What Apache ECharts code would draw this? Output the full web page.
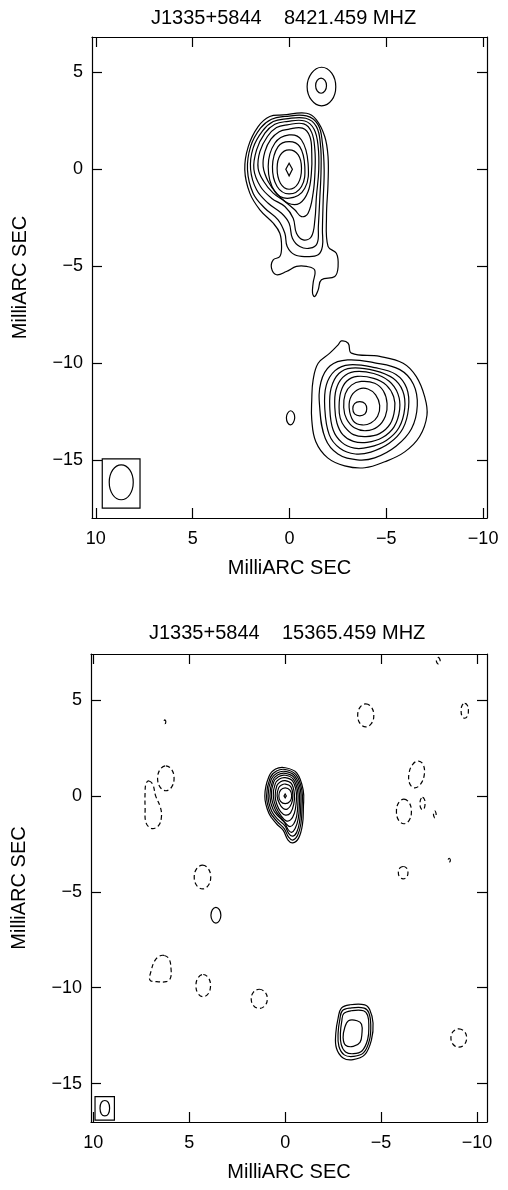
<!DOCTYPE html>
<html>
<head>
<meta charset="utf-8">
<script src="https://cdn.jsdelivr.net/npm/echarts@6/dist/echarts.min.js"></script>
<style>
  html, body { margin: 0; padding: 0; background: #fff; }
  #chart { width: 508px; height: 1190px; }
</style>
</head>
<body>
<div id="chart"></div>
<script>
// tick values (milliarcsec)
const xTicks = [10, 5, 0, -5, -10];
const yTicks = [5, 0, -5, -10, -15];

// ---- 8421 MHz map: contour polygons in (RA offset, Dec offset) mas ----
const topCoreRings = [
  [[0.33,2.78],[-0.88,2.87],[-1.39,2.53],[-1.82,1.67],[-1.99,0.64],[-1.99,-0.74],[-1.91,-2.46],[-1.99,-4.0],[-2.42,-4.35],[-2.51,-5.03],[-2.34,-5.55],[-1.65,-5.72],[-1.48,-6.24],[-1.3,-6.58],[-1.19,-6.41],[-1.22,-5.89],[-1.3,-5.21],[-0.88,-5.03],[-0.36,-5.03],[0.16,-5.29],[0.67,-5.46],[0.93,-5.12],[0.84,-4.69],[0.5,-4.52],[0.41,-4.0],[0.5,-3.32],[0.84,-2.8],[1.53,-2.11],[2.05,-1.25],[2.31,-0.05],[2.13,1.15],[1.62,2.18],[1.02,2.7]],
  [[0.24,2.70],[-0.88,2.73],[-1.48,2.27],[-1.70,1.32],[-1.79,-0.05],[-1.74,-1.60],[-1.70,-3.14],[-1.70,-4.0],[-1.48,-4.43],[-0.88,-4.52],[-0.27,-4.43],[0.12,-4.0],[0.24,-3.32],[0.59,-2.63],[1.27,-2.03],[1.88,-1.25],[2.17,-0.05],[2.01,1.15],[1.50,2.10],[0.93,2.56]],
  [[0.19,2.58],[-0.84,2.61],[-1.39,2.18],[-1.60,1.24],[-1.63,-0.05],[-1.56,-1.60],[-1.49,-2.97],[-1.43,-3.83],[-1.05,-4.09],[-0.53,-4.0],[-0.15,-3.57],[0.02,-2.80],[0.41,-2.29],[1.10,-1.77],[1.70,-1.08],[2.01,-0.02],[1.88,1.07],[1.39,1.96],[0.84,2.44]],
  [[0.16,2.44],[-0.79,2.47],[-1.27,2.04],[-1.48,1.15],[-1.51,-0.05],[-1.39,-1.43],[-1.31,-2.63],[-1.13,-3.49],[-0.71,-3.66],[-0.36,-3.32],[-0.19,-2.54],[0.24,-1.94],[0.93,-1.51],[1.50,-0.91],[1.84,-0.02],[1.70,0.98],[1.27,1.84],[0.76,2.30]],
  [[0.12,2.27],[-0.74,2.32],[-1.15,1.87],[-1.31,0.98],[-1.32,-0.05],[-1.22,-1.25],[-0.96,-2.29],[-0.62,-2.46],[-0.27,-2.11],[0.24,-1.68],[0.84,-1.25],[1.33,-0.65],[1.62,0.03],[1.53,0.89],[1.14,1.67],[0.67,2.13]],
  [[0.07,2.04],[-0.67,2.10],[-1.05,1.67],[-1.15,0.81],[-1.13,-0.22],[-0.96,-1.17],[-0.53,-1.77],[0.07,-1.77],[0.67,-1.25],[1.10,-0.65],[1.36,0.12],[1.27,0.89],[0.96,1.53],[0.53,1.92]],
  [[0.02,1.75],[-0.62,1.49],[-0.96,0.29],[-0.79,-1.0],[0.0,-1.51],[0.76,-1.17],[1.10,0.12],[0.76,1.32]],
  [[0.02,1.41],[-0.53,1.15],[-0.79,0.12],[-0.62,-0.91],[0.02,-1.29],[0.64,-0.91],[0.88,0.12],[0.59,1.15]],
  [[0.02,0.98],[-0.45,0.72],[-0.62,0.03],[-0.45,-0.74],[0.02,-1.05],[0.47,-0.74],[0.64,0.03],[0.47,0.72]]
];
const topCorePeak = [[0.02,0.29],[-0.15,-0.02],[0.02,-0.36],[0.19,-0.02]];
const topNorthRings = [
  [[-1.66,5.24],[-2.18,4.94],[-2.39,4.24],[-2.18,3.54],[-1.66,3.25],[-1.14,3.54],[-0.91,4.24],[-1.14,4.94]],
  [[-1.63,4.68],[-1.83,4.56],[-1.91,4.29],[-1.83,4.02],[-1.63,3.90],[-1.43,4.02],[-1.35,4.29],[-1.43,4.56]]
];
const topSouthRings = [
  [[-1.22,-10.88],[-1.48,-10.02],[-2.08,-9.5],[-2.51,-9.07],[-2.68,-8.87],[-3.03,-8.99],[-3.2,-9.5],[-4.66,-9.67],[-5.87,-10.02],[-6.55,-10.71],[-6.98,-11.74],[-7.1,-12.7],[-6.72,-13.8],[-5.95,-14.59],[-4.92,-15.1],[-3.89,-15.41],[-2.85,-15.31],[-1.97,-14.9],[-1.36,-14.07],[-1.15,-12.94],[-1.15,-11.9]],
  [[-1.56,-12.3],[-1.62,-11.0],[-2.1,-10.15],[-3.0,-9.85],[-4.4,-10.0],[-5.7,-10.35],[-6.4,-11.1],[-6.6,-12.2],[-6.3,-13.4],[-5.5,-14.3],[-4.4,-14.9],[-3.5,-15.0],[-2.5,-14.7],[-1.85,-13.9]],
  [[-1.82,-12.3],[-1.9,-11.15],[-2.35,-10.4],[-3.1,-10.1],[-4.4,-10.25],[-5.5,-10.6],[-6.05,-11.3],[-6.15,-12.3],[-5.85,-13.4],[-5.15,-14.15],[-4.2,-14.6],[-3.4,-14.7],[-2.6,-14.4],[-2.05,-13.7]],
  [[-2.08,-12.3],[-2.15,-11.3],[-2.55,-10.55],[-3.2,-10.27],[-4.4,-10.4],[-5.35,-10.8],[-5.85,-11.45],[-5.95,-12.35],[-5.65,-13.35],[-5.0,-14.0],[-4.1,-14.35],[-3.35,-14.4],[-2.7,-14.1],[-2.25,-13.45]],
  [[-2.34,-12.3],[-2.4,-11.4],[-2.75,-10.75],[-3.35,-10.45],[-4.35,-10.55],[-5.15,-10.95],[-5.6,-11.6],[-5.69,-12.4],[-5.4,-13.3],[-4.8,-13.85],[-4.0,-14.1],[-3.3,-14.05],[-2.75,-13.7],[-2.45,-13.1]],
  [[-2.56,-12.3],[-2.65,-11.5],[-2.95,-10.95],[-3.5,-10.7],[-4.35,-10.8],[-5.0,-11.15],[-5.38,-11.75],[-5.43,-12.4],[-5.2,-13.15],[-4.65,-13.65],[-3.95,-13.8],[-3.3,-13.7],[-2.85,-13.3],[-2.62,-12.85]],
  [[-2.8,-12.3],[-2.88,-11.6],[-3.2,-11.15],[-3.7,-10.96],[-4.4,-11.05],[-4.85,-11.45],[-5.04,-12.1],[-4.95,-12.75],[-4.55,-13.3],[-3.95,-13.5],[-3.35,-13.35],[-2.95,-12.9]],
  [[-3.08,-12.3],[-3.2,-11.7],[-3.6,-11.35],[-4.05,-11.35],[-4.45,-11.65],[-4.66,-12.2],[-4.55,-12.75],[-4.2,-13.1],[-3.75,-13.2],[-3.3,-13.0]],
  [[-3.63,-12.0],[-3.9,-12.1],[-3.99,-12.37],[-3.9,-12.63],[-3.63,-12.73],[-3.36,-12.63],[-3.27,-12.37],[-3.36,-12.1]]
];
const topSpot = [[-0.06,-12.47],[-0.22,-12.6],[-0.27,-12.83],[-0.2,-13.08],[-0.06,-13.2],[0.1,-13.08],[0.16,-12.83],[0.1,-12.6]];
const topBeam = [[8.69,-15.26],[8.25,-15.52],[8.07,-16.16],[8.25,-16.8],[8.69,-17.06],[9.13,-16.8],[9.31,-16.16],[9.13,-15.52]];
const topBeamBox = [[9.67,-14.95],[7.72,-14.95],[7.72,-17.49],[9.67,-17.49]];

// ---- 15365 MHz map ----
const botCoreRings = [
  [[0.0,1.47],[-0.6,1.2],[-0.94,0.3],[-0.95,-0.6],[-0.9,-1.5],[-0.7,-2.2],[-0.4,-2.45],[-0.15,-2.3],[0.1,-1.8],[0.45,-1.45],[0.85,-0.9],[1.06,0.0],[0.85,1.0],[0.5,1.4]],
  [[0.0,1.38],[-0.55,1.12],[-0.87,0.3],[-0.88,-0.6],[-0.82,-1.45],[-0.65,-2.05],[-0.4,-2.3],[-0.18,-2.15],[0.05,-1.7],[0.4,-1.35],[0.78,-0.85],[0.97,0.0],[0.78,0.95],[0.45,1.3]],
  [[0.0,1.28],[-0.5,1.05],[-0.8,0.3],[-0.81,-0.55],[-0.75,-1.35],[-0.6,-1.9],[-0.38,-2.1],[-0.18,-1.95],[0.02,-1.55],[0.35,-1.25],[0.7,-0.8],[0.89,0.0],[0.72,0.88],[0.42,1.2]],
  [[0.0,1.18],[-0.46,0.97],[-0.72,0.3],[-0.74,-0.5],[-0.68,-1.2],[-0.52,-1.7],[-0.33,-1.9],[-0.15,-1.75],[0.02,-1.4],[0.3,-1.12],[0.62,-0.72],[0.8,0.0],[0.65,0.8],[0.38,1.1]],
  [[0.0,1.08],[-0.42,0.88],[-0.65,0.25],[-0.66,-0.45],[-0.6,-1.05],[-0.45,-1.45],[-0.25,-1.6],[-0.05,-1.45],[0.2,-1.15],[0.5,-0.75],[0.72,0.0],[0.6,0.72],[0.35,1.0]],
  [[0.0,0.95],[-0.38,0.78],[-0.58,0.2],[-0.57,-0.4],[-0.48,-0.9],[-0.28,-1.25],[-0.05,-1.3],[0.22,-1.02],[0.48,-0.58],[0.62,0.0],[0.52,0.63],[0.3,0.88]],
  [[0.0,0.8],[-0.32,0.65],[-0.48,0.12],[-0.45,-0.42],[-0.28,-0.88],[-0.02,-1.0],[0.24,-0.82],[0.43,-0.45],[0.52,0.0],[0.43,0.54],[0.24,0.74]],
  [[0.0,0.62],[-0.28,0.5],[-0.4,0.05],[-0.33,-0.4],[-0.12,-0.68],[0.1,-0.66],[0.3,-0.4],[0.42,0.0],[0.34,0.42],[0.18,0.57]],
  [[0.0,0.42],[-0.25,0.3],[-0.34,0.0],[-0.25,-0.28],[0.0,-0.4],[0.24,-0.28],[0.33,0.0],[0.24,0.3]]
];
const botCorePeak = [[0.0,0.1],[-0.06,0.0],[0.0,-0.1],[0.06,0.0]];
const botSouthRings = [
  [[-2.93,-11.06],[-3.37,-10.89],[-4.15,-10.89],[-4.41,-11.15],[-4.58,-11.84],[-4.50,-12.71],[-4.15,-13.49],[-3.54,-13.75],[-3.02,-13.66],[-2.67,-13.14],[-2.64,-12.36],[-2.76,-11.58]],
  [[-2.98,-11.2],[-3.4,-11.06],[-4.12,-11.06],[-4.36,-11.3],[-4.46,-11.9],[-4.4,-12.7],[-4.08,-13.4],[-3.55,-13.58],[-3.08,-13.5],[-2.8,-13.05],[-2.76,-12.36],[-2.85,-11.65]],
  [[-3.05,-11.35],[-3.45,-11.2],[-4.08,-11.2],[-4.3,-11.45],[-4.36,-12.0],[-4.3,-12.7],[-4.0,-13.3],[-3.55,-13.44],[-3.15,-13.35],[-2.92,-12.95],[-2.88,-12.36],[-2.95,-11.75]],
  [[-3.3,-11.72],[-3.75,-11.72],[-3.98,-11.9],[-4.0,-12.4],[-3.9,-12.85],[-3.55,-13.06],[-3.15,-13.0],[-3.02,-12.6],[-3.1,-12.1]]
];
const botSolidSpot = [[3.61,-5.81],[3.43,-5.93],[3.35,-6.22],[3.43,-6.51],[3.61,-6.63],[3.79,-6.51],[3.87,-6.22],[3.79,-5.93]];
const botNegative = [
  [[6.27,3.97],[6.22,3.87],[6.27,3.77],[6.32,3.87]],
  [[6.22,1.57],[5.92,1.38],[5.79,0.92],[5.92,0.46],[6.22,0.27],[6.52,0.46],[6.65,0.92],[6.52,1.38]],
  [[7.1,0.78],[6.9,0.6],[6.75,0.0],[6.5,-0.6],[6.45,-1.1],[6.6,-1.55],[6.95,-1.7],[7.25,-1.4],[7.3,-0.6],[7.3,0.2],[7.25,0.65]],
  [[4.31,-3.61],[4.01,-3.79],[3.88,-4.23],[4.01,-4.67],[4.31,-4.85],[4.61,-4.67],[4.74,-4.23],[4.61,-3.79]],
  [[6.30,-8.32],[6.05,-8.5],[5.95,-9.0],[5.98,-9.5],[6.2,-9.68],[6.7,-9.68],[7.05,-9.6],[6.98,-9.1],[6.8,-8.6],[6.55,-8.35]],
  [[4.27,-9.31],[4.0,-9.48],[3.89,-9.89],[4.0,-10.3],[4.27,-10.47],[4.54,-10.3],[4.65,-9.89],[4.54,-9.48]],
  [[1.35,-10.08],[1.05,-10.23],[0.93,-10.58],[1.05,-10.93],[1.35,-11.08],[1.65,-10.93],[1.77,-10.58],[1.65,-10.23]],
  [[-9.05,-12.14],[-9.34,-12.28],[-9.46,-12.62],[-9.34,-12.96],[-9.05,-13.1],[-8.76,-12.96],[-8.64,-12.62],[-8.76,-12.28]],
  [[-4.2,4.8],[-4.5,4.62],[-4.62,4.2],[-4.5,3.78],[-4.2,3.6],[-3.9,3.78],[-3.78,4.2],[-3.9,4.62]],
  [[-6.95,1.82],[-7.2,1.62],[-7.25,1.1],[-7.05,0.6],[-6.75,0.42],[-6.5,0.62],[-6.45,1.15],[-6.65,1.65]],
  [[-6.19,-0.17],[-6.47,-0.36],[-6.58,-0.81],[-6.47,-1.26],[-6.19,-1.45],[-5.91,-1.26],[-5.8,-0.81],[-5.91,-0.36]],
  [[-7.16,-0.08],[-7.26,-0.18],[-7.29,-0.4],[-7.26,-0.62],[-7.16,-0.72],[-7.06,-0.62],[-7.03,-0.4],[-7.06,-0.18]],
  [[-7.8,-0.78],[-7.87,-0.96],[-7.8,-1.14],[-7.73,-0.96]],
  [[-8.55,-3.25],[-8.61,-3.35],[-8.55,-3.45],[-8.49,-3.35]],
  [[-6.15,-3.68],[-6.33,-3.77],[-6.4,-4.0],[-6.33,-4.23],[-6.15,-4.32],[-5.97,-4.23],[-5.9,-4.0],[-5.97,-3.77]],
  [[-7.98,7.22],[-8.08,7.05],[-7.98,6.88],[-7.88,7.05]],
  [[-9.36,4.83],[-9.5,4.72],[-9.55,4.44],[-9.5,4.16],[-9.36,4.05],[-9.22,4.16],[-9.17,4.44],[-9.22,4.72]]
];
const botBeam = [[9.4,-15.88],[9.22,-15.98],[9.15,-16.28],[9.22,-16.58],[9.4,-16.68],[9.58,-16.58],[9.65,-16.28],[9.58,-15.98]];
const botBeamBox = [[9.91,-15.68],[8.9,-15.68],[8.9,-16.9],[9.91,-16.9]];

function shapes(list, opt) {
  return list.map(function (pts) {
    return { pts: pts, dash: !!opt.dash, smooth: opt.smooth == null ? 0.4 : opt.smooth };
  });
}

const topShapes = [].concat(
  shapes(topCoreRings, {}), shapes([topCorePeak], { smooth: 0 }),
  shapes(topNorthRings, {}), shapes(topSouthRings, {}), shapes([topSpot], {}),
  shapes([topBeam], {}), shapes([topBeamBox], { smooth: 0 })
);
const botShapes = [].concat(
  shapes(botCoreRings, {}), shapes([botCorePeak], { smooth: 0 }),
  shapes(botSouthRings, {}), shapes([botSolidSpot], {}),
  shapes(botNegative, { dash: true }),
  shapes([botBeam], {}), shapes([botBeamBox], { smooth: 0 })
);

const FONT = 'Liberation Sans, Arial, Helvetica, sans-serif';
function tickFmt(v) { return v < 0 ? '\u2212' + Math.abs(v) : String(v); }

function xAxes(grid, min, max) {
  const base = {
    gridIndex: grid, type: 'value', min: min, max: max, inverse: true,
    axisLine: { onZero: false, lineStyle: { color: '#000', width: 1.2 } },
    axisTick: { inside: true, length: 10, customValues: xTicks, lineStyle: { color: '#000', width: 1.2 } },
    splitLine: { show: false }
  };
  return [
    Object.assign({}, base, {
      position: 'bottom',
      axisLabel: { customValues: xTicks, formatter: tickFmt, color: '#000', fontSize: 18, fontFamily: FONT, margin: 12 },
      name: 'MilliARC SEC', nameLocation: 'middle', nameGap: 40,
      nameTextStyle: { color: '#000', fontSize: 20, fontFamily: FONT }
    }),
    Object.assign({}, base, { position: 'top', axisLabel: { show: false } })
  ];
}
function yAxes(grid, min, max) {
  const base = {
    gridIndex: grid, type: 'value', min: min, max: max,
    axisLine: { onZero: false, lineStyle: { color: '#000', width: 1.2 } },
    axisTick: { inside: true, length: 10, customValues: yTicks, lineStyle: { color: '#000', width: 1.2 } },
    splitLine: { show: false }
  };
  return [
    Object.assign({}, base, {
      position: 'left',
      axisLabel: { customValues: yTicks, formatter: tickFmt, color: '#000', fontSize: 18, fontFamily: FONT, margin: 9 },
      name: 'MilliARC SEC', nameLocation: 'middle', nameGap: 62, nameRotate: 90,
      nameTextStyle: { color: '#000', fontSize: 20, fontFamily: FONT }
    }),
    Object.assign({}, base, { position: 'right', axisLabel: { show: false } })
  ];
}

function contourSeries(list, xi, yi) {
  return {
    type: 'custom', xAxisIndex: xi, yAxisIndex: yi, clip: true, silent: true,
    data: list.map(function (s) { return s.pts[0]; }),
    renderItem: function (params, api) {
      const s = list[params.dataIndex];
      const points = s.pts.map(function (p) { return api.coord(p); });
      return {
        type: 'polygon',
        shape: { points: points, smooth: s.smooth },
        style: {
          fill: null, stroke: '#000', lineWidth: 1.2,
          lineDash: s.dash ? [4.5, 3] : null
        }
      };
    }
  };
}

const chart = echarts.init(document.getElementById('chart'), null, { renderer: 'canvas' });
chart.setOption({
  backgroundColor: '#fff',
  animation: false,
  title: [
    { text: 'J1335+5844    8421.459 MHZ', left: 146, top: 3, textStyle: { color: '#000', fontSize: 20, fontWeight: 'normal', fontFamily: FONT } },
    { text: 'J1335+5844    15365.459 MHZ', left: 144, top: 618, textStyle: { color: '#000', fontSize: 20, fontWeight: 'normal', fontFamily: FONT } }
  ],
  grid: [
    { left: 92, top: 37, width: 395, height: 481 },
    { left: 91, top: 654, width: 396, height: 468 }
  ],
  xAxis: [].concat(xAxes(0, -10.2, 10.2), xAxes(1, -10.52, 10.12)),
  yAxis: [].concat(yAxes(0, -18.0, 6.8), yAxes(1, -17.0, 7.4)),
  series: [
    contourSeries(topShapes, 0, 0),
    contourSeries(botShapes, 2, 2)
  ]
});
</script>
</body>
</html>
